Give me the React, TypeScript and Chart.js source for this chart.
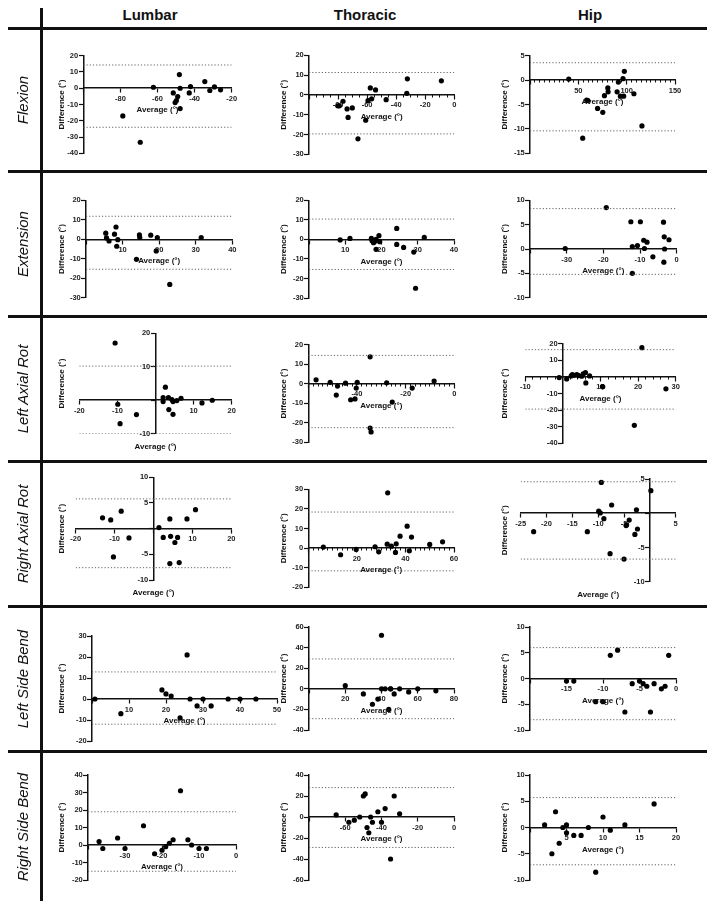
import React, { useEffect, useRef } from "react";
import { Chart, registerables } from "chart.js";
Chart.register(...registerables);

const columnTitles = ["Lumbar", "Thoracic", "Hip"];
const rowTitles = ["Flexion", "Extension", "Left Axial Rot", "Right Axial Rot", "Left Side Bend", "Right Side Bend"];
const xAxisTitle = "Average (°)";
const yAxisTitle = "Difference (°)";

// ---- Flexion ----
const lumbarFlexionAvg = [-62.2, -78.7, -69.3, -51.5, -50.5, -49.8, -49.1, -48.2, -47.8, -47.8, -42.9, -42.2, -34.5, -31.8, -29.3, -26];
const lumbarFlexionDiff = [0.6, -17, -33.2, -2.9, -8.8, -7.6, -5.1, 8.4, 0, -12.5, -2.9, 1, 4.1, -1.4, 0.8, -1];
const lumbarFlexionLimits = [14.3, -24.0];

const thoracicFlexionAvg = [-80.2, -79.1, -76.6, -73.8, -73.1, -70.2, -66.3, -61, -59.4, -57.8, -56.9, -54.2, -46.9, -32.7, -32.3, -8.9];
const thoracicFlexionDiff = [-5.5, -5.5, -3.2, -7.1, -11.4, -6.6, -22.2, -12.8, -2.9, 3.5, -2.0, 2.5, -2.4, 0.8, 8.1, 7.1];
const thoracicFlexionLimits = [11.3, -19.7];

const hipFlexionAvg = [40.1, 54.5, 58.6, 59.9, 69.9, 75.3, 77, 80.5, 80.8, 90.1, 91.4, 93.5, 96.2, 96.9, 97.6, 107.5, 115.8];
const hipFlexionDiff = [0.2, -11.9, -4.1, -4.2, -5.8, -6.6, -3.2, -1.6, -2.4, -2.4, -0.4, -3.3, 0.3, -3.3, 1.8, -2.8, -9.4];
const hipFlexionLimits = [3.56, -10.4];

// ---- Extension ----
const lumbarExtensionAvg = [5.4, 5.6, 6.3, 7.8, 8.2, 8.4, 8.7, 13.8, 14.6, 14.7, 17.7, 19.2, 19.5, 22.9, 31.5];
const lumbarExtensionDiff = [3.1, 0.7, -0.9, 2.6, 6.3, -3.6, -0.2, -10.3, 2.2, 0.9, 2.1, -6.0, 0.9, -23.2, 0.9];
const lumbarExtensionLimits = [11.8, -15.4];

const thoracicExtensionAvg = [8.6, 11.3, 17.2, 17.4, 17.8, 18.2, 18.5, 18.5, 19.3, 19.5, 24.2, 24.2, 26.1, 28.9, 29.4, 31.8];
const thoracicExtensionDiff = [-0.3, 0.5, 0.5, -0.7, -1.7, -1.0, 0, -5.1, 1.9, -1.2, 5.6, -2.6, -4.1, -6.5, -25, 1.0];
const thoracicExtensionLimits = [10.4, -15.4];

const hipExtensionAvg = [-30.4, -19.2, -12.5, -12.1, -12.1, -10.7, -9.9, -9.0, -8.8, -8.1, -6.5, -3.6, -3.4, -3.3, -3.5, -2.1];
const hipExtensionDiff = [0.1, 8.5, 5.6, 0.5, -5.0, 0.7, 5.6, 1.8, 0.1, 1.4, -1.6, 5.5, 2.5, 0, -2.7, 1.9];
const hipExtensionLimits = [8.3, -5.2];

// ---- Left Axial Rotation ----
const lumbarLeftRotAvg = [-10.6, -9.9, -9.3, -5.0, 2.0, 2.0, 2.6, 3.4, 3.5, 4.3, 4.6, 4.6, 5.6, 6.7, 12.2, 14.9];
const lumbarLeftRotDiff = [17.1, -1.2, -7.0, -4.3, 0.8, -0.4, 3.9, 0.8, -2.8, 0.2, -0.4, -4.2, -0.1, 0.6, -0.8, 0];
const lumbarLeftRotLimits = [10.2, -10.0];

const thoracicLeftRotAvg = [-56.8, -51.0, -48.5, -48.0, -44.7, -42.6, -40.8, -40.3, -39.9, -34.6, -34.6, -34.2, -27.8, -25.5, -17.3, -8.3];
const thoracicLeftRotDiff = [2.0, 0.7, -5.8, -1.2, 0.3, -8.2, -7.8, -2.2, 0.7, 13.8, -22.7, -24.7, 0.5, -9.4, -2.2, 1.4];
const thoracicLeftRotLimits = [14.5, -22.5];

const hipLeftRotAvg = [-1.0, 1.0, 2.2, 2.5, 3.0, 3.7, 4.2, 5.0, 5.4, 6.0, 6.1, 7.1, 10.5, 10.6, 19.0, 21.0, 27.4];
const hipLeftRotDiff = [-0.4, -1.2, 0.6, 1.4, 1.0, 1.4, 0.8, 0.4, 1.8, 2.6, -3.6, 0.6, -5.8, -6.0, -29.2, 17.6, -7.2];
const hipLeftRotLimits = [16.4, -19.4];

// ---- Right Axial Rotation ----
const lumbarRightRotAvg = [-13.1, -11.0, -10.3, -8.3, -6.3, 1.4, 2.5, 4.2, 4.4, 4.2, 5.5, 6.2, 6.6, 8.6, 10.8];
const lumbarRightRotDiff = [2.1, 1.7, -5.5, 3.4, -1.8, 0.2, -1.7, 1.9, -1.5, -6.8, -2.7, -1.7, -6.6, 1.9, 3.7];
const lumbarRightRotLimits = [5.8, -7.6];

const thoracicRightRotAvg = [6.2, 13.3, 19.7, 27.5, 29.0, 32.5, 32.7, 34.2, 35.9, 36.2, 37.8, 40.7, 41.6, 42.5, 50.0, 55.3];
const thoracicRightRotDiff = [0.5, -3.4, -0.7, 0.7, -1.9, 2.0, 28.2, 1.0, -2.2, 2.2, 6.1, 11.2, -1.4, 5.6, 1.9, 3.2];
const thoracicRightRotLimits = [18.4, -11.6];

const hipRightRotAvg = [-22.5, -12.1, -9.9, -9.6, -9.4, -8.9, -7.7, -7.4, -5.0, -4.5, -4.0, -4.6, -2.9, -2.6, -2.4, 0.2];
const hipRightRotDiff = [-2.7, -2.7, 0.3, 0.05, 4.5, -0.8, -5.9, 1.2, -6.7, -1.7, -1.0, -1.8, -3.1, 0.5, -2.3, 3.3];
const hipRightRotLimits = [4.6, -6.7];

// ---- Left Side Bend ----
const lumbarLeftBendAvg = [0.8, 7.8, 18.9, 20, 21.4, 23.8, 25.7, 26.5, 28.4, 30, 32.2, 36.8, 40, 44.3];
const lumbarLeftBendDiff = [0, -7, 4.3, 2.4, 1.4, -9, 21, 0, -3.3, 0, -3.3, 0, 0, 0];
const lumbarLeftBendLimits = [12.9, -12];

const thoracicLeftBendAvg = [20, 30, 35, 38, 40, 40, 42, 44, 45, 45, 47, 50, 55, 60, 70];
const thoracicLeftBendDiff = [3, -5, -15, -10, 52, 0, 0, -20, 0, 0, -5, 0, -3, 0, -2];
const thoracicLeftBendLimits = [29, -29];

const hipLeftBendAvg = [-15, -14, -11, -10, -9, -8, -7, -6, -5, -4.5, -4, -3.5, -3, -2, -1.5, -1];
const hipLeftBendDiff = [-0.5, -0.5, -4.5, -4.5, 4.5, 5.5, -6.5, -1, -0.5, -1, -1.5, -6.5, -1, -2, -1.5, 4.5];
const hipLeftBendLimits = [6, -8];

// ---- Right Side Bend ----
const lumbarRightBendAvg = [-37, -36, -32, -30, -25, -22, -20, -19, -18, -17, -15, -13, -12, -10, -8];
const lumbarRightBendDiff = [2, -2, 4, -2, 11, -5, -3, -1, 1, 3, 31, 3, 0, -2, -2];
const lumbarRightBendLimits = [19, -15];

const thoracicRightBendAvg = [-65, -58, -55, -52, -50, -49, -48, -47, -46, -45, -42, -40, -38, -35, -33, -30];
const thoracicRightBendDiff = [2, -5, -3, 0, 20, 22, -10, -15, 0, -5, 5, -5, 8, -40, 20, 3];
const thoracicRightBendLimits = [28, -29];

const hipRightBendAvg = [2, 3, 3.5, 4, 4.5, 5, 5, 6, 7, 8, 9, 10, 11, 13, 17];
const hipRightBendDiff = [0.5, -5, 3, -3, 0, 0.5, -1, -1.5, -1.5, 0, -8.5, 2, -0.5, 0.5, 4.5];
const hipRightBendLimits = [5.7, -7.1];

type PanelCfg = {
  avg: number[];
  diff: number[];
  limits: number[];
  x: [number, number, number, number]; // min, max, step, minor step (0 = none)
  y: [number, number, number];
  yAt: number;
  hideX: number[];
  hideY: number[];
  title: "axis" | "bottom";
  plot: [number, number, number, number]; // left, top, right, bottom in page px
};

const panels: PanelCfg[][] = [
  [
    { avg: lumbarFlexionAvg, diff: lumbarFlexionDiff, limits: lumbarFlexionLimits, x: [-100, -20, 20, 0], y: [-40, 20, 10], yAt: -100, hideX: [-100], hideY: [], title: "axis", plot: [83.3, 55.7, 231.7, 153.3] },
    { avg: thoracicFlexionAvg, diff: thoracicFlexionDiff, limits: thoracicFlexionLimits, x: [-100, 0, 20, 5], y: [-30, 20, 10], yAt: -100, hideX: [-100], hideY: [], title: "axis", plot: [309, 55.3, 454.3, 154.3] },
    { avg: hipFlexionAvg, diff: hipFlexionDiff, limits: hipFlexionLimits, x: [0, 150, 50, 5], y: [-15, 5, 5], yAt: 0, hideX: [0], hideY: [], title: "axis", plot: [530, 55.7, 675, 153.3] },
  ],
  [
    { avg: lumbarExtensionAvg, diff: lumbarExtensionDiff, limits: lumbarExtensionLimits, x: [0, 40, 10, 0], y: [-30, 20, 10], yAt: 0, hideX: [0], hideY: [], title: "axis", plot: [86, 200.3, 232.3, 297.7] },
    { avg: thoracicExtensionAvg, diff: thoracicExtensionDiff, limits: thoracicExtensionLimits, x: [0, 40, 10, 0], y: [-30, 20, 10], yAt: 0, hideX: [0], hideY: [], title: "axis", plot: [309, 200.3, 454, 298] },
    { avg: hipExtensionAvg, diff: hipExtensionDiff, limits: hipExtensionLimits, x: [-40, 0, 10, 0], y: [-10, 10, 5], yAt: -40, hideX: [-40], hideY: [], title: "axis", plot: [530, 200.3, 676.7, 297.7] },
  ],
  [
    { avg: lumbarLeftRotAvg, diff: lumbarLeftRotDiff, limits: lumbarLeftRotLimits, x: [-20, 20, 10, 0], y: [-10, 20, 10], yAt: 0, hideX: [0], hideY: [0], title: "bottom", plot: [79.3, 333.3, 231.7, 433.7] },
    { avg: thoracicLeftRotAvg, diff: thoracicLeftRotDiff, limits: thoracicLeftRotLimits, x: [-60, 0, 20, 2], y: [-30, 20, 10], yAt: -60, hideX: [-60], hideY: [], title: "axis", plot: [308.3, 344.7, 454.3, 442.3] },
    { avg: hipLeftRotAvg, diff: hipLeftRotDiff, limits: hipLeftRotLimits, x: [-10, 30, 10, 2], y: [-40, 20, 10], yAt: 0, hideX: [0], hideY: [0], title: "axis", plot: [525.3, 343.7, 675.7, 443.3] },
  ],
  [
    { avg: lumbarRightRotAvg, diff: lumbarRightRotDiff, limits: lumbarRightRotLimits, x: [-20, 20, 10, 0], y: [-10, 10, 5], yAt: 0, hideX: [0], hideY: [0], title: "bottom", plot: [75.7, 477.3, 231.3, 580] },
    { avg: thoracicRightRotAvg, diff: thoracicRightRotDiff, limits: thoracicRightRotLimits, x: [0, 60, 20, 2], y: [-20, 30, 10], yAt: 0, hideX: [0], hideY: [], title: "axis", plot: [308.3, 489.3, 454, 587.3] },
    { avg: hipRightRotAvg, diff: hipRightRotDiff, limits: hipRightRotLimits, x: [-25, 5, 5, 0], y: [-10, 5, 5], yAt: 0, hideX: [0], hideY: [0], title: "bottom", plot: [520.7, 479, 675.7, 581.7] },
  ],
  [
    { avg: lumbarLeftBendAvg, diff: lumbarLeftBendDiff, limits: lumbarLeftBendLimits, x: [0, 50, 10, 0], y: [-20, 30, 10], yAt: 0, hideX: [0], hideY: [], title: "axis", plot: [92, 636, 277, 741] },
    { avg: thoracicLeftBendAvg, diff: thoracicLeftBendDiff, limits: thoracicLeftBendLimits, x: [0, 80, 20, 0], y: [-40, 60, 20], yAt: 0, hideX: [0], hideY: [], title: "axis", plot: [309, 627, 454, 730] },
    { avg: hipLeftBendAvg, diff: hipLeftBendDiff, limits: hipLeftBendLimits, x: [-20, 0, 5, 0], y: [-10, 10, 5], yAt: -20, hideX: [-20], hideY: [], title: "axis", plot: [530, 627, 676, 730] },
  ],
  [
    { avg: lumbarRightBendAvg, diff: lumbarRightBendDiff, limits: lumbarRightBendLimits, x: [-40, 0, 10, 0], y: [-20, 40, 10], yAt: -40, hideX: [-40], hideY: [], title: "axis", plot: [88, 775, 236, 880] },
    { avg: thoracicRightBendAvg, diff: thoracicRightBendDiff, limits: thoracicRightBendLimits, x: [-80, 0, 20, 0], y: [-60, 40, 20], yAt: -80, hideX: [-80], hideY: [], title: "axis", plot: [309, 775, 454, 880] },
    { avg: hipRightBendAvg, diff: hipRightBendDiff, limits: hipRightBendLimits, x: [0, 20, 5, 0], y: [-10, 10, 5], yAt: 0, hideX: [0], hideY: [], title: "axis", plot: [530, 775, 676, 880] },
  ],
];

const FONT = '"Liberation Sans", Arial, sans-serif';
const colRects = [
  [43, 229],
  [272, 210],
  [482, 232],
];
const rowRects = [
  [30, 140],
  [173, 142],
  [318, 142],
  [463, 142],
  [608, 142],
  [753, 148],
];
const yTitleX = [61.5, 283.3, 505];
const hLines = [27, 170, 315, 460, 605, 750];
const LABEL_GAP = "\u2002\u2009";

function Panel({ cfg, col, row }: { cfg: PanelCfg; col: number; row: number }) {
  const ref = useRef<HTMLCanvasElement>(null);
  const [cx, cw0] = colRects[col];
  const [cy, ch] = rowRects[row];
  const cw = Math.max(cw0, Math.ceil(cfg.plot[2] - cx + 28));
  useEffect(() => {
    const [pl, pt, pr, pb] = cfg.plot;
    const [xMin, xMax, xStep, xMinor] = cfg.x;
    const [yMin, yMax, yStep] = cfg.y;
    const points = cfg.avg.map((a, i) => ({ x: a, y: cfg.diff[i] }));
    const tickFont = { family: FONT, size: 7.5, weight: "bold" as const };
    const near = (v: number, arr: number[]) => arr.some((h) => Math.abs(h - v) < 1e-6);
    const scales: any = {
      x: {
        type: "linear",
        min: xMin,
        max: xMax,
        position: { y: 0 },
        grid: { display: true, drawOnChartArea: false, drawTicks: true, tickLength: 4, tickWidth: 1.2, tickColor: "#111" },
        border: { display: true, color: "#111", width: 1.5 },
        ticks: {
          stepSize: xStep,
          autoSkip: false,
          maxRotation: 0,
          font: tickFont,
          color: "#222",
          padding: 2,
          callback: (v: number) => (near(v, cfg.hideX) ? "" : String(v)),
        },
      },
      y: {
        type: "linear",
        min: yMin,
        max: yMax,
        position: { x: cfg.yAt },
        grid: { display: true, drawOnChartArea: false, drawTicks: true, tickLength: 4, tickWidth: 1.2, tickColor: "#111" },
        border: { display: true, color: "#111", width: 1.5 },
        ticks: {
          stepSize: yStep,
          autoSkip: false,
          font: tickFont,
          color: "#222",
          padding: 2,
          callback: (v: number) => (near(v, cfg.hideY) ? "" : String(v) + LABEL_GAP),
        },
      },
    };
    if (xMinor > 0) {
      scales.xm = {
        type: "linear",
        axis: "x",
        min: xMin,
        max: xMax,
        position: { y: 0 },
        grid: { display: true, drawOnChartArea: false, drawTicks: true, tickLength: 2.5, tickWidth: 1, tickColor: "#111" },
        border: { display: false },
        ticks: { display: false, stepSize: xMinor, autoSkip: false },
      };
    }
    const titles = {
      id: "axisTitles",
      afterDraw(chart: any) {
        const { ctx, chartArea } = chart;
        ctx.save();
        ctx.fillStyle = "#111";
        ctx.font = `bold 8px ${FONT}`;
        ctx.textAlign = "center";
        ctx.textBaseline = "middle";
        const ty = cfg.title === "axis" ? chart.scales.y.getPixelForValue(0) + 22 : chartArea.bottom + 13;
        ctx.fillText(xAxisTitle, (chartArea.left + chartArea.right) / 2, ty);
        ctx.translate(yTitleX[col] - cx, (chartArea.top + chartArea.bottom) / 2);
        ctx.rotate(-Math.PI / 2);
        ctx.fillText(yAxisTitle, 0, 0);
        ctx.restore();
      },
    };
    const limitLine = (v: number) => ({
      data: [
        { x: xMin, y: v },
        { x: xMax, y: v },
      ],
      showLine: true,
      borderColor: "#666",
      borderWidth: 1,
      borderDash: [1.2, 2],
      pointRadius: 0,
      xAxisID: "x",
      yAxisID: "y",
    });
    const chart = new Chart(ref.current as HTMLCanvasElement, {
      type: "scatter",
      data: {
        datasets: [
          limitLine(cfg.limits[0]) as any,
          limitLine(cfg.limits[1]) as any,
          {
            data: points,
            pointRadius: 2.6,
            pointBackgroundColor: "#000",
            pointBorderWidth: 0,
            xAxisID: "x",
            yAxisID: "y",
          } as any,
        ],
      },
      options: {
        animation: false,
        responsive: false,
        maintainAspectRatio: false,
        devicePixelRatio: 1,
        layout: { padding: { left: pl - cx, top: pt - cy, right: cx + cw - pr, bottom: cy + ch - pb } },
        plugins: { legend: { display: false }, tooltip: { enabled: false }, title: { display: false } },
        scales,
      },
      plugins: [titles],
    });
    return () => chart.destroy();
  }, []);
  return (
    <canvas
      ref={ref}
      width={cw}
      height={ch}
      style={{ position: "absolute", left: cx, top: cy, width: cw, height: ch }}
    />
  );
}

export default function App() {
  return (
    <div style={{ position: "fixed", left: 0, top: 0, width: 714, height: 901, background: "#fff", overflow: "hidden", fontFamily: FONT }}>
      {panels.map((row, r) => row.map((cfg, c) => <Panel key={`${r}-${c}`} cfg={cfg} col={c} row={r} />))}
      {hLines.map((y, i) => (
        <div key={`h${i}`} style={{ position: "absolute", left: 8, top: y, width: 699, height: 3, background: "#111" }} />
      ))}
      <div style={{ position: "absolute", left: 40, top: 8, width: 3, height: 893, background: "#111" }} />
      {columnTitles.map((t, i) => (
        <div
          key={t}
          style={{ position: "absolute", left: [150, 365, 590][i] - 60, width: 120, top: 6, textAlign: "center", fontWeight: "bold", fontSize: 15, lineHeight: "18px", color: "#111" }}
        >
          {t}
        </div>
      ))}
      {rowTitles.map((t, i) => {
        const y0 = i === 0 ? 30 : hLines[i] + 3;
        const y1 = i < 5 ? hLines[i + 1] : 901;
        const cyy = (y0 + y1) / 2;
        return (
          <div
            key={t}
            style={{
              position: "absolute",
              left: 23 - 80,
              top: cyy - 10,
              width: 160,
              height: 20,
              lineHeight: "20px",
              textAlign: "center",
              fontStyle: "italic",
              fontSize: 15,
              color: "#111",
              transform: "rotate(-90deg)",
              whiteSpace: "nowrap",
            }}
          >
            {t}
          </div>
        );
      })}
    </div>
  );
}
